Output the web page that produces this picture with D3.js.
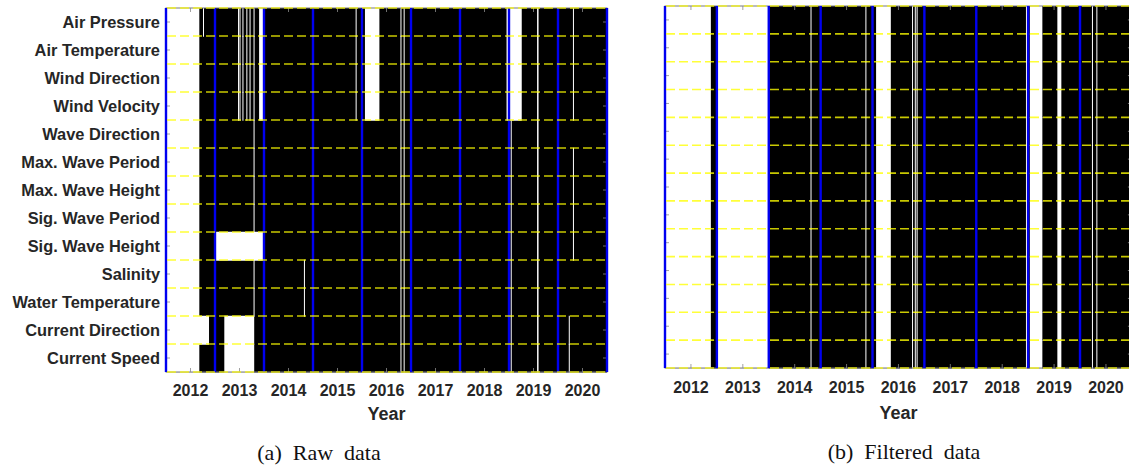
<!DOCTYPE html>
<html>
<head>
<meta charset="utf-8">
<script src="https://cdn.jsdelivr.net/npm/d3@7"></script>
<style>
  html, body { margin: 0; padding: 0; background: #fff; }
  svg { display: block; }
</style>
</head>
<body>
<svg id="chart" width="1129" height="467"></svg>
<script>
// ---------- data ----------
const rowLabels = ["Air Pressure", "Air Temperature", "Wind Direction", "Wind Velocity",
  "Wave Direction", "Max. Wave Period", "Max. Wave Height", "Sig. Wave Period",
  "Sig. Wave Height", "Salinity", "Water Temperature", "Current Direction", "Current Speed"];

const yearTicks = [2012, 2013, 2014, 2015, 2016, 2017, 2018, 2019, 2020];
const yearBounds = [2011.5, 2012.5, 2013.5, 2014.5, 2015.5, 2016.5, 2017.5, 2018.5, 2019.5, 2020.5];
const timeDomain = [2011.5, 2020.5];

// missing-data intervals (years) per sensor, raw data
const gapsAirPressure = [[2011.5, 2012.18], [2012.255, 2012.268], [2012.97, 2012.985], [2013.0, 2013.018],
  [2013.06, 2013.072], [2013.14, 2013.158], [2013.205, 2013.223], [2013.287, 2013.305], [2013.40, 2013.5],
  [2015.37, 2015.383], [2015.56, 2015.855], [2016.285, 2016.297], [2016.35, 2016.365],
  [2018.45, 2018.76], [2019.073, 2019.103], [2019.805, 2019.822]];
const gapsAirTemperature = [[2011.5, 2012.18], [2012.97, 2012.985], [2013.0, 2013.018],
  [2013.06, 2013.072], [2013.14, 2013.158], [2013.205, 2013.223], [2013.287, 2013.305], [2013.40, 2013.5],
  [2015.37, 2015.383], [2015.56, 2015.855], [2016.285, 2016.297], [2016.35, 2016.365],
  [2018.45, 2018.76], [2019.073, 2019.103], [2019.805, 2019.822]];
const gapsWindDirection = gapsAirTemperature;
const gapsWindVelocity = gapsAirTemperature;
const gapsWaveDirection = [[2011.5, 2012.18], [2013.287, 2013.305], [2016.285, 2016.297], [2016.35, 2016.365],
  [2018.535, 2018.548], [2019.073, 2019.103]];
const gapsMaxWavePeriod = [[2011.5, 2012.18], [2013.287, 2013.305], [2016.285, 2016.297], [2016.35, 2016.365],
  [2018.535, 2018.548], [2019.073, 2019.103], [2019.805, 2019.822]];
const gapsMaxWaveHeight = gapsMaxWavePeriod;
const gapsSigWavePeriod = gapsMaxWavePeriod;
const gapsSigWaveHeight = [[2011.5, 2012.18], [2012.52, 2013.5], [2016.285, 2016.297], [2016.35, 2016.365],
  [2018.535, 2018.548], [2019.073, 2019.103], [2019.805, 2019.822]];
const gapsSalinity = [[2011.5, 2012.18], [2013.287, 2013.305], [2014.315, 2014.333], [2016.285, 2016.297],
  [2016.35, 2016.368], [2018.535, 2018.548], [2019.073, 2019.103]];
const gapsWaterTemperature = gapsSalinity;
const gapsCurrentDirection = [[2011.5, 2012.378], [2012.69, 2013.3], [2016.285, 2016.297], [2016.35, 2016.365],
  [2018.535, 2018.548], [2019.073, 2019.103], [2019.72, 2019.733]];
const gapsCurrentSpeed = [[2011.5, 2012.18], [2012.69, 2013.3], [2016.285, 2016.297], [2016.35, 2016.365],
  [2018.535, 2018.548], [2019.073, 2019.103], [2019.72, 2019.733]];

const rawGaps = [gapsAirPressure, gapsAirTemperature, gapsWindDirection, gapsWindVelocity,
  gapsWaveDirection, gapsMaxWavePeriod, gapsMaxWaveHeight, gapsSigWavePeriod, gapsSigWaveHeight,
  gapsSalinity, gapsWaterTemperature, gapsCurrentDirection, gapsCurrentSpeed];

// missing intervals after filtering (common to all sensors)
const filteredGaps = [[2011.5, 2012.384], [2012.52, 2013.5], [2014.305, 2014.322], [2015.363, 2015.378],
  [2015.569, 2015.853], [2016.262, 2016.274], [2016.315, 2016.33], [2016.35, 2016.366],
  [2018.458, 2018.47], [2018.532, 2018.774], [2019.063, 2019.14], [2019.73, 2019.745], [2019.815, 2019.83]];

// ---------- drawing ----------
const svg = d3.select("#chart");
const textColor = "#262626";

function drawPanel(opts) {
  const g = svg.append("g");
  const x = d3.scaleLinear().domain(timeDomain).range([opts.left, opts.right]);
  const y = d3.scaleBand().domain(rowLabels).range([opts.top, opts.bottom]);

  // available data (black) bars per sensor
  g.selectAll("rect.avail").data(rowLabels).join("rect")
    .attr("class", "avail")
    .attr("x", x(timeDomain[0]))
    .attr("width", x(timeDomain[1]) - x(timeDomain[0]))
    .attr("y", d => y(d))
    .attr("height", y.bandwidth() + 0.5)
    .attr("fill", "#000");

  // missing intervals (white)
  const gapData = [];
  rowLabels.forEach((lab, i) => {
    opts.gaps(i).forEach(gp => gapData.push({ lab, s: gp[0], e: gp[1] }));
  });
  g.selectAll("rect.gap").data(gapData).join("rect")
    .attr("class", "gap")
    .attr("x", d => x(d.s))
    .attr("width", d => Math.max(1, x(d.e) - x(d.s)))
    .attr("y", d => y(d.lab) - 0.25)
    .attr("height", y.bandwidth() + 1)
    .attr("fill", "#fff");

  // box (gray)
  g.append("rect")
    .attr("x", opts.left).attr("y", opts.top)
    .attr("width", opts.right - opts.left).attr("height", opts.bottom - opts.top)
    .attr("fill", "none").attr("stroke", "#7a7a7a").attr("stroke-width", 1);

  // ticks
  const tickG = g.append("g").attr("stroke", "#8a8a8a").attr("stroke-width", 0.8);
  yearTicks.forEach(t => {
    tickG.append("line").attr("x1", x(t)).attr("x2", x(t)).attr("y1", opts.bottom).attr("y2", opts.bottom - 4);
    tickG.append("line").attr("x1", x(t)).attr("x2", x(t)).attr("y1", opts.top).attr("y2", opts.top + 4);
  });
  rowLabels.forEach(r => {
    const cy = y(r) + y.bandwidth() / 2;
    tickG.append("line").attr("x1", opts.left).attr("x2", opts.left + 4).attr("y1", cy).attr("y2", cy);
    tickG.append("line").attr("x1", opts.right).attr("x2", opts.right - 4).attr("y1", cy).attr("y2", cy);
  });

  // year boundary lines (blue)
  g.selectAll("line.yb").data(yearBounds).join("line")
    .attr("class", "yb")
    .attr("x1", d => x(d)).attr("x2", d => x(d))
    .attr("y1", opts.top).attr("y2", opts.bottom)
    .attr("stroke", "#0000f0").attr("stroke-width", 2.4);

  // row boundaries (yellow dashed)
  const rowEdges = rowLabels.map(r => y(r)).concat([opts.bottom]);
  g.selectAll("line.rb").data(rowEdges).join("line")
    .attr("class", "rb")
    .attr("x1", opts.left + 1).attr("x2", opts.right)
    .attr("y1", d => d).attr("y2", d => d)
    .attr("stroke", "#ffff00").attr("stroke-width", 1.6)
    .attr("stroke-opacity", 0.78)
    .attr("stroke-dasharray", "9,4");

  // x tick labels
  g.selectAll("text.xt").data(yearTicks).join("text")
    .attr("class", "xt")
    .attr("x", d => x(d)).attr("y", opts.tickBase)
    .attr("text-anchor", "middle")
    .attr("font-family", "'Liberation Sans', Arial, sans-serif")
    .attr("font-weight", "bold").attr("font-size", 16)
    .attr("fill", textColor)
    .text(d => d);

  // x axis title
  g.append("text")
    .attr("x", (opts.left + opts.right) / 2).attr("y", opts.titleBase)
    .attr("text-anchor", "middle")
    .attr("font-family", "'Liberation Sans', Arial, sans-serif")
    .attr("font-weight", "bold").attr("font-size", 18)
    .attr("fill", textColor)
    .text("Year");

  // y labels
  if (opts.yLabels) {
    g.selectAll("text.yl").data(rowLabels).join("text")
      .attr("class", "yl")
      .attr("x", opts.left - 6)
      .attr("y", d => y(d) + y.bandwidth() / 2)
      .attr("dy", "0.36em")
      .attr("text-anchor", "end")
      .attr("font-family", "'Liberation Sans', Arial, sans-serif")
      .attr("font-weight", "bold").attr("font-size", 16.4)
      .attr("fill", textColor)
      .text(d => d);
  }

  // caption
  g.append("text")
    .attr("x", opts.capX).attr("y", opts.capBase)
    .attr("text-anchor", "middle")
    .attr("xml:space", "preserve")
    .style("white-space", "pre")
    .attr("font-family", "'Liberation Serif', 'Times New Roman', serif")
    .attr("font-size", 22)
    .attr("fill", "#111")
    .text(opts.caption);
}

drawPanel({
  left: 166, right: 607, top: 8, bottom: 372,
  gaps: i => rawGaps[i],
  yLabels: true,
  tickBase: 396, titleBase: 420,
  capX: 319, capBase: 460, caption: "(a)  Raw  data"
});

drawPanel({
  left: 665, right: 1131.9, top: 6, bottom: 368,
  gaps: i => filteredGaps,
  yLabels: false,
  tickBase: 393, titleBase: 419,
  capX: 904, capBase: 459, caption: "(b)  Filtered  data"
});
</script>
</body>
</html>
